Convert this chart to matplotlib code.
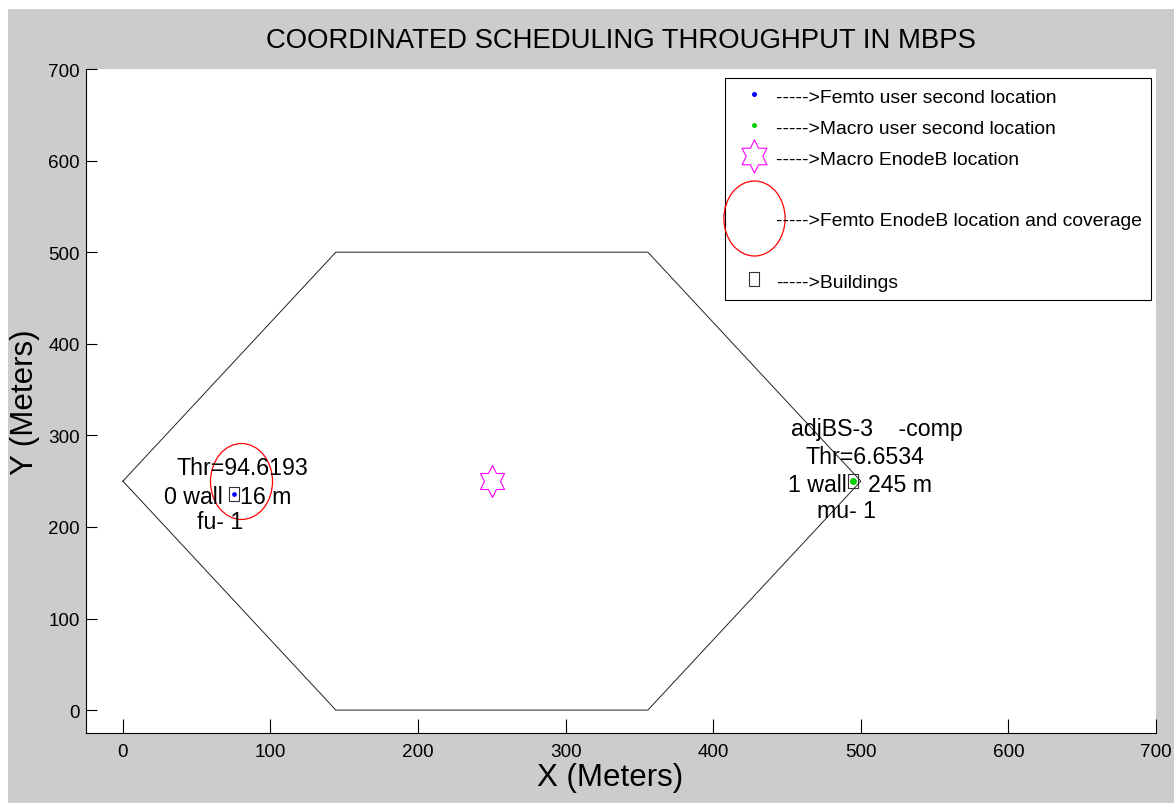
import numpy as np
import matplotlib
matplotlib.use("Agg")
import matplotlib.pyplot as plt
from matplotlib.path import Path
from matplotlib.lines import Line2D
from matplotlib.patches import Rectangle
from matplotlib import font_manager as fm

# ---------------- data ----------------
hex_x = [0, 144.3, 355.7, 500, 355.7, 144.3, 0]
hex_y = [250, 500, 500, 250, 0, 0, 250]
macro_bs_x = [250]
macro_bs_y = [250]
femto_bs_x = [80]
femto_bs_y = [250]
femto_user_x = [75]
femto_user_y = [236]
macro_user_x = [495]
macro_user_y = [250]
building_x = [75, 495]
building_y = [236, 250]

femto_thr = "94.6193"
femto_walls = 0
femto_dist = 16
femto_id = 1
macro_thr = "6.6534"
macro_walls = 1
macro_dist = 245
macro_id = 1
adj_bs = 3

x_ticks = [0, 100, 200, 300, 400, 500, 600, 700]
y_ticks = [0, 100, 200, 300, 400, 500, 600, 700]
legend_labels = ["----->Femto user second location",
                 "----->Macro user second location",
                 "----->Macro EnodeB location",
                 "----->Femto EnodeB location and coverage",
                 "----->Buildings"]
title = "COORDINATED SCHEDULING THROUGHPUT IN MBPS"

# ---------------- fonts ----------------
fam = ["Liberation Sans", "DejaVu Sans"]
plt.rcParams["font.family"] = fam

# ---------------- markers ----------------
ang = np.deg2rad(90 + 30 * np.arange(12))
rad = np.where(np.arange(12) % 2 == 0, 1.0, 1 / np.sqrt(3))
sv = np.column_stack([rad * np.cos(ang), 1.15 * rad * np.sin(ang)])
sv = np.vstack([sv, sv[:1]])
hexagram = Path(sv, [Path.MOVETO] + [Path.LINETO] * 11 + [Path.CLOSEPOLY])
uc = Path.unit_circle()
ellipse = Path(uc.vertices * np.array([0.816, 1.0]), uc.codes)
rv = np.array([[-0.77, -1], [0.77, -1], [0.77, 1], [-0.77, 1], [-0.77, -1]])
rect = Path(rv, [Path.MOVETO, Path.LINETO, Path.LINETO, Path.LINETO, Path.CLOSEPOLY])

# ---------------- figure ----------------
W, H = 1174, 804
fig = plt.figure(figsize=(W / 100, H / 100), dpi=100)
fig.patch.set_facecolor("white")
fig.patches.append(Rectangle((8 / W, 0), 1 - 8 / W, (H - 10) / H, transform=fig.transFigure,
                             facecolor="#cccccc", edgecolor="none", zorder=-10))
ax = fig.add_axes([86 / W, (H - 734) / H, 1070 / W, 664 / H])
ax.set_facecolor("white")

ax.plot(hex_x, hex_y, color="#222222", lw=0.7, zorder=2)
ax.plot(building_x, building_y, linestyle="none", marker=rect, ms=9.4, mfc="none",
        mec="#333333", mew=0.8, zorder=3)
ax.plot(femto_user_x, femto_user_y, linestyle="none", marker="o", ms=3.4, color="blue",
        mec="none", zorder=4)
ax.plot(macro_user_x, macro_user_y, linestyle="none", marker="o", ms=5, color="#00d000",
        mec="none", zorder=4)
ax.plot(macro_bs_x, macro_bs_y, linestyle="none", marker=hexagram, ms=23, mfc="none",
        mec="#ff00ff", mew=0.8, zorder=4)
ax.plot(femto_bs_x, femto_bs_y, linestyle="none", marker=ellipse, ms=54.7, mfc="none",
        mec="red", mew=0.9, zorder=5)

ax.set_xlim(-25, 700)
ax.set_ylim(-25, 700)
ax.set_xticks(x_ticks)
ax.set_yticks(y_ticks)
for s in ["top", "right"]:
    ax.spines[s].set_visible(False)
for s in ["left", "bottom"]:
    ax.spines[s].set_linewidth(0.8)
ax.tick_params(axis="both", direction="in", width=0.8, labelsize=13.6, colors="black")
ax.tick_params(axis="x", length=10, pad=7.5)
ax.tick_params(axis="y", length=8, pad=4.3)

# annotations
tfs = 16.7
fu = (femto_user_x[0], femto_user_y[0])
mu = (macro_user_x[0], macro_user_y[0])
def note(txt, xy, off, ha):
    ax.annotate(txt, xy=xy, xytext=off, textcoords="offset points", ha=ha, va="baseline",
                fontsize=tfs, zorder=6)
note(f"Thr={femto_thr}", fu, (6.3, 14.2), "center")
note(f"{femto_walls} wall", fu, (-8.1, -6.7), "right")
note(f"{femto_dist} m", fu, (4.9, -6.7), "left")
note(f"fu- {femto_id}", fu, (-9.5, -24.7), "center")
note(f"adjBS-{adj_bs}    -comp", mu, (16.7, 33.0), "center")
note(f"Thr={macro_thr}", mu, (8.4, 12.9), "center")
note(f"{macro_walls} wall", mu, (-4.9, -7.1), "right")
note(f"{macro_dist} m", mu, (10.7, -7.1), "left")
note(f"mu- {macro_id}", mu, (-4.9, -26.0), "center")

# titles / labels
ax.set_title(title, fontsize=19.8, y=1.0331, pad=0)
lab_font = dict(family=fam, size=22.5)
ax.set_xlabel("X (Meters)", fontdict=lab_font)
ax.set_ylabel("Y (Meters)", fontdict=lab_font)
ax.xaxis.set_label_coords(0.49, -0.0437)
ax.yaxis.set_label_coords(-0.043, 0.5)

# legend
blank = Line2D([], [], linestyle="none")
handles = [
    Line2D([], [], linestyle="none", marker="o", ms=3.6, color="blue", mec="none"),
    Line2D([], [], linestyle="none", marker="o", ms=3.6, color="#00d000", mec="none"),
    Line2D([], [], linestyle="none", marker=hexagram, ms=23.8, mfc="none", mec="#ff00ff", mew=0.8),
    blank,
    Line2D([], [], linestyle="none", marker=ellipse, ms=54, mfc="none", mec="red", mew=0.9),
    blank,
    Line2D([], [], linestyle="none", marker=rect, ms=9.4, mfc="none", mec="#333333", mew=0.8),
]
labels = [legend_labels[0], legend_labels[1], legend_labels[2], " ", legend_labels[3], " ",
          legend_labels[4]]
leg = ax.legend(handles, labels, loc="upper right", bbox_to_anchor=(0.9953, 0.9864),
                borderaxespad=0, fancybox=False, framealpha=1, edgecolor="black",
                prop=fm.FontProperties(family=fam, size=13.9), numpoints=1,
                borderpad=0.45, handlelength=2.1, handletextpad=0.1, handleheight=1.0,
                labelspacing=0.6)
leg.get_frame().set_linewidth(0.8)

fig.savefig("out.png", dpi=100, facecolor=fig.get_facecolor())
